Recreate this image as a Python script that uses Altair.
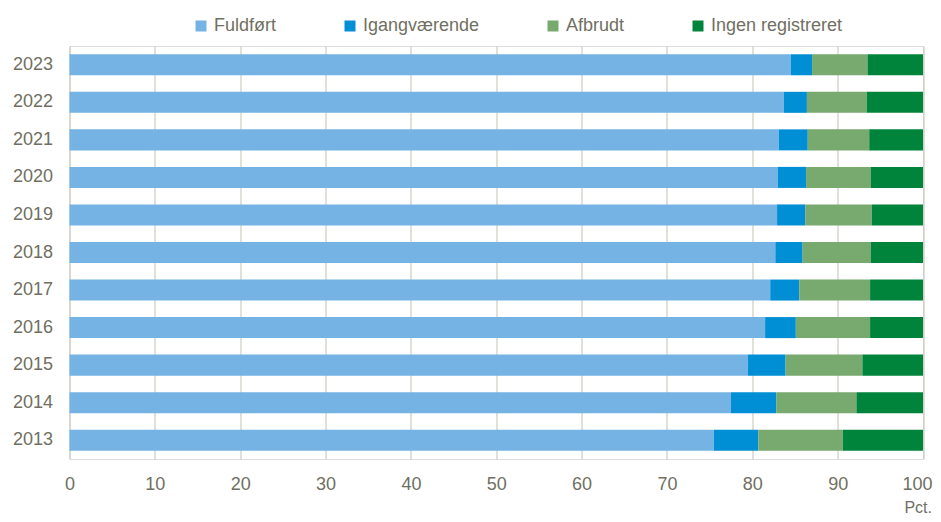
import altair as alt
import pandas as pd

years = ["2013", "2014", "2015", "2016", "2017", "2018", "2019", "2020", "2021", "2022", "2023"]
categories = ["Fuldført", "Igangværende", "Afbrudt", "Ingen registreret"]
fuldfoert = [75.5, 77.5, 79.5, 81.5, 82.1, 82.7, 82.9, 83.0, 83.1, 83.7, 84.5]
igang = [5.2, 5.3, 4.4, 3.6, 3.4, 3.2, 3.3, 3.3, 3.4, 2.7, 2.5]
afbrudt = [9.9, 9.4, 9.0, 8.7, 8.3, 8.0, 7.8, 7.6, 7.2, 7.0, 6.5]
ingen = [9.4, 7.8, 7.1, 6.2, 6.2, 6.1, 6.0, 6.1, 6.3, 6.6, 6.5]
x_ticks = list(range(0, 101, 10))
colors = ["#74b3e3", "#008fd5", "#78a96f", "#00843b"]

rows = []
for i, y in enumerate(years):
    for k, (cat, series) in enumerate(zip(categories, [fuldfoert, igang, afbrudt, ingen])):
        rows.append({"year": y, "cat": cat, "value": series[i], "order": k})
df = pd.DataFrame(rows)

text_color = "#6f6f62"
font = "Liberation Sans"

chart = alt.Chart(df).mark_bar().encode(
    x=alt.X("value:Q", stack="zero",
            scale=alt.Scale(domain=[0, 100], nice=False, zero=True),
            axis=alt.Axis(values=x_ticks, title="Pct.", grid=True,
                          gridColor="#c2c2b4", gridWidth=1, domain=False, ticks=False,
                          labelFlush=False,
                          labelAlign={"condition": {"test": "datum.value == 100", "value": "right"}, "value": "center"},
                          labelOffset={"condition": {"test": "datum.value == 100", "value": 9}, "value": 0},
                          labelFontSize=18, labelColor=text_color, labelFont=font,
                          labelPadding=16, titleFont=font, titleFontSize=16,
                          titleFontWeight="normal", titleColor=text_color,
                          titleAnchor="end", titleAlign="right", titleX=862,
                          titleY=53, titleBaseline="alphabetic")),
    y=alt.Y("year:O", sort=alt.SortField("year", order="descending"),
            scale=alt.Scale(paddingInner=0.44, paddingOuter=0.22),
            axis=alt.Axis(title=None, domain=False, ticks=False, grid=False,
                          labelFontSize=18, labelColor=text_color, labelFont=font,
                          labelPadding=17)),
    color=alt.Color("cat:N", sort=categories,
                    scale=alt.Scale(domain=categories, range=colors),
                    legend=alt.Legend(title=None, orient="none", direction="horizontal",
                                      legendX=122.5, legendY=-29,
                                      symbolType="square", symbolSize=121,
                                      symbolStrokeWidth=0,
                                      labelFontSize=18, labelColor=text_color,
                                      labelFont=font, labelOffset=4,
                                      columnPadding=64)),
    order=alt.Order("order:Q", sort="ascending"),
).properties(
    width=853.5, height=413,
    autosize=alt.AutoSizeParams(type="none"),
    padding={"left": 61.5, "top": 38, "right": 10, "bottom": 55},
).configure_view(stroke=None).configure(background="white")

chart.save("out.html", embed_options={"renderer": "svg", "actions": False})
